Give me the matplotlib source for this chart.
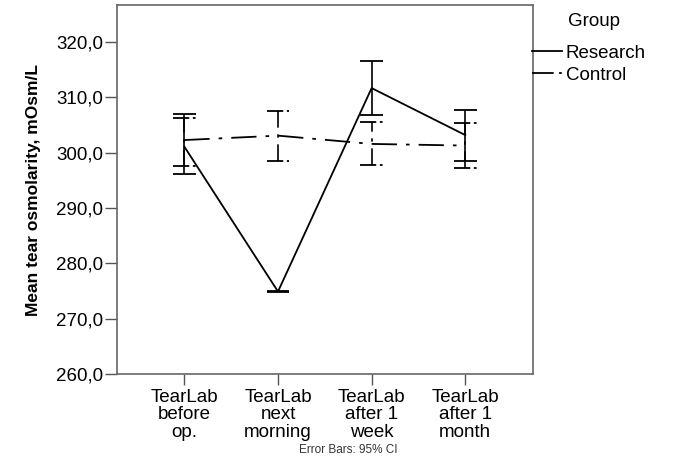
import numpy as np
import matplotlib.pyplot as plt

plt.rcParams['font.family'] = ['Liberation Sans', 'DejaVu Sans']

# ============= DATA =============
timepoints = ["TearLab\nbefore\nop.", "TearLab\nnext\nmorning",
              "TearLab\nafter 1\nweek", "TearLab\nafter 1\nmonth"]
research_mean = [301.1, 274.9, 311.7, 303.2]
research_low = [296.2, 274.8, 306.8, 298.5]
research_high = [307.0, 275.0, 316.6, 307.7]
control_mean = [302.3, 303.1, 301.6, 301.3]
control_low = [297.6, 298.5, 297.8, 297.2]
control_high = [306.2, 307.6, 305.6, 305.3]
yticks = [260, 270, 280, 290, 300, 310, 320]

x = np.arange(len(timepoints))
dash = (14, 5, 2, 5)
cap = 0.12

fig = plt.figure(figsize=(6.76, 4.68), dpi=100)
ax = fig.add_axes([0.173, 0.201, 0.615, 0.788])

# ============= RESEARCH (solid) =============
ax.plot(x, research_mean, color="black", lw=1.3, label="Research")
ax.vlines(x, research_low, research_high, color="black", lw=1.2)
ax.hlines(research_low, x - cap, x + cap, color="black", lw=1.3)
ax.hlines(research_high, x - cap, x + cap, color="black", lw=1.3)

# ============= CONTROL (dash-dot) =============
ax.plot(x, control_mean, color="black", lw=1.3, dashes=dash, label="Control")
for lo, hi, xi in zip(control_low, control_high, x):
    ax.plot([xi, xi], [lo, hi], color="black", lw=1.2, dashes=(10, 4, 2, 4))
    ax.plot([xi - cap, xi + cap], [lo, lo], color="black", lw=1.3, dashes=(9, 2, 1.5, 2))
    ax.plot([xi - cap, xi + cap], [hi, hi], color="black", lw=1.3, dashes=(9, 2, 1.5, 2))

# ============= AXES =============
ax.set_xlim(-0.72, 3.72)
ax.set_ylim(260, 326.7)
ax.set_yticks(yticks)
ax.set_yticklabels([f"{v:.1f}".replace(".", ",") for v in yticks], fontsize=13.5)
ax.set_xticks(x)
ax.set_xticklabels(timepoints, fontsize=13.5, linespacing=1.02)
ax.tick_params(axis="y", direction="out", length=9, pad=1, color="#555555", width=1)
ax.tick_params(axis="x", direction="out", length=8, pad=3, color="#555555", width=1)
for s in ax.spines.values():
    s.set_color("#666666")
    s.set_linewidth(1.2)
ax.set_ylabel("Mean tear osmolarity, mOsm/L", fontsize=12.5, fontweight="bold", labelpad=11)

# ============= LEGEND =============
fig.text(0.84, 0.953, "Group", fontsize=13.5, va="center", ha="left")
leg = ax.legend(loc="upper left", bbox_to_anchor=(0.998, 0.893), frameon=False, fontsize=13.5,
                handlelength=1.6, handletextpad=0.2, labelspacing=0.25, borderaxespad=0.0,
                borderpad=0.0)
leg.get_lines()[1].set_dashes((12, 3, 1.5, 3))

fig.text(0.515, 0.038, "Error Bars: 95% CI", fontsize=8.5, ha="center", va="center",
         color="#333333")

plt.savefig("out.png", dpi=100)
